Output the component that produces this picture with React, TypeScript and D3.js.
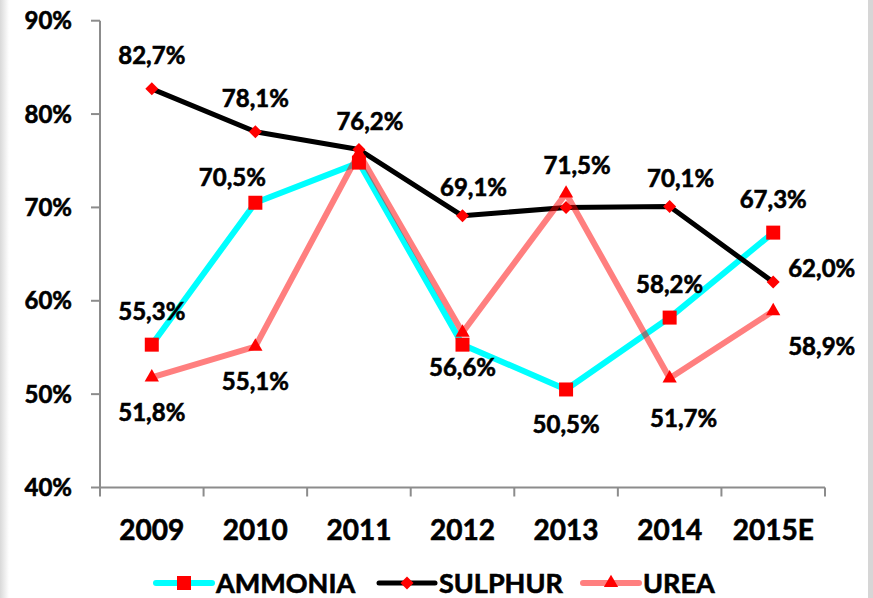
import { scaleBand, scaleLinear, line as d3line, symbol, symbolSquare, symbolTriangle, range } from "d3";

const years = ["2009", "2010", "2011", "2012", "2013", "2014", "2015E"];
const ammonia = [55.3, 70.5, 74.8, 55.3, 50.5, 58.2, 67.3];
const sulphur = [82.7, 78.1, 76.2, 69.1, 70.0, 70.1, 62.0];
const urea = [51.8, 55.1, 75.8, 56.6, 71.5, 51.7, 58.9];

// label placement per point: t=above, b=below, r=right, tl/tr/br shifted, "" hidden
const ammoniaLabels = ["t", "tl", "", "", "b", "t", "t"];
const sulphurLabels = ["t", "t", "tr", "tr", "", "tr", "r"];
const ureaLabels = ["b", "b", "", "b", "tr", "br2", "br"];

const yTicks = [40, 50, 60, 70, 80, 90];
const seriesNames = ["AMMONIA", "SULPHUR", "UREA"];

const W = 873;
const H = 598;
const PLOT = { left: 100, right: 825, top: 20.7, bottom: 487.5 };
const FONT = "Lato, 'Open Sans', sans-serif";
const LEGEND_X = [156, 379, 583];

const fmt = (v: number) => v.toFixed(1).replace(".", ",") + "%";

type Marker = "square" | "diamond" | "triangle";

function markerPath(m: Marker) {
  if (m === "square") return symbol(symbolSquare, 196)() ?? "";
  if (m === "diamond") return "M0,-6.5L6.5,0L0,6.5L-6.5,0Z";
  return symbol(symbolTriangle, 88)() ?? "";
}

// slightly heavier glyphs, closer to the original bold face
const textStroke = { stroke: "#000", strokeWidth: 0.6 };

export default function App() {
  const x = scaleBand<string>().domain(years).range([PLOT.left, PLOT.right]);
  const y = scaleLinear().domain([40, 90]).range([PLOT.bottom, PLOT.top]);
  const cx = (i: number) => (x(years[i]) ?? 0) + x.bandwidth() / 2;

  const series = [
    { name: seriesNames[0], values: ammonia, labels: ammoniaLabels, stroke: "#00ffff", width: 6, opacity: 1, marker: "square" as Marker },
    { name: seriesNames[1], values: sulphur, labels: sulphurLabels, stroke: "#000000", width: 5, opacity: 1, marker: "diamond" as Marker },
    { name: seriesNames[2], values: urea, labels: ureaLabels, stroke: "#ff0000", width: 6, opacity: 0.5, marker: "triangle" as Marker },
  ];

  const gen = d3line<number>()
    .x((_, i) => cx(i))
    .y((v) => y(v));

  const labelPos = (code: string, i: number, v: number) => {
    const px = cx(i);
    const py = y(v);
    switch (code) {
      case "t":
        return { x: px, y: py - 33, anchor: "middle" };
      case "tl":
        return { x: px - 23, y: py - 25, anchor: "middle" };
      case "tr":
        return { x: px + 11, y: py - 28, anchor: "middle" };
      case "b":
        return { x: px, y: py + 35, anchor: "middle" };
      case "br2":
        return { x: px + 14, y: py + 40, anchor: "middle" };
      case "br":
        return { x: px + 15, y: py + 35, anchor: "start" };
      case "r":
        return { x: px + 15, y: py - 14, anchor: "start" };
      default:
        return null;
    }
  };

  const boundaries = range(years.length + 1).map((i) => PLOT.left + i * x.step());

  return (
    <svg
      width={W}
      height={H}
      viewBox={`0 0 ${W} ${H}`}
      style={{ position: "absolute", left: 0, top: 0, background: "#fff" }}
      fontFamily={FONT}
      fontWeight={700}
    >
      <defs>
        <linearGradient id="edgeL" x1="0" x2="1" y1="0" y2="0">
          <stop offset="0" stopColor="#d9d9d9" />
          <stop offset="1" stopColor="#ffffff" />
        </linearGradient>
      </defs>
      <rect x={0} y={0} width={9} height={H} fill="url(#edgeL)" />
      <rect x={868} y={0} width={5} height={H} fill="#d6d6d6" />

      {/* y axis */}
      <line x1={PLOT.left} x2={PLOT.left} y1={PLOT.top} y2={PLOT.bottom} stroke="#8c8c8c" strokeWidth={2} />
      {yTicks.map((t) => (
        <g key={t}>
          <line x1={PLOT.left - 9} x2={PLOT.left} y1={y(t)} y2={y(t)} stroke="#8c8c8c" strokeWidth={2} />
          <text x={72} y={y(t) + 8.5} textAnchor="end" fontSize={24} fill="#000" {...textStroke}>
            {t}%
          </text>
        </g>
      ))}

      {/* x axis */}
      <line x1={PLOT.left} x2={PLOT.right} y1={PLOT.bottom} y2={PLOT.bottom} stroke="#8c8c8c" strokeWidth={2} />
      {boundaries.map((b, i) => (
        <line key={i} x1={b} x2={b} y1={PLOT.bottom} y2={PLOT.bottom + 9} stroke="#8c8c8c" strokeWidth={2} />
      ))}
      {years.map((yr, i) => (
        <text key={yr} x={cx(i)} y={539.5} textAnchor="middle" fontSize={28} fill="#000" {...textStroke}>
          {yr}
        </text>
      ))}

      {/* lines */}
      {series.map((s) => (
        <path
          key={s.name}
          d={gen(s.values) ?? ""}
          fill="none"
          stroke={s.stroke}
          strokeOpacity={s.opacity}
          strokeWidth={s.width}
          strokeLinejoin="round"
        />
      ))}

      {/* markers */}
      {series.map((s) =>
        s.values.map((v, i) => (
          <path key={s.name + i} d={markerPath(s.marker)} transform={`translate(${cx(i)},${y(v)})`} fill="#ff0000" />
        ))
      )}

      {/* data labels */}
      {series.map((s) =>
        s.values.map((v, i) => {
          const p = labelPos(s.labels[i], i, v);
          if (!p) return null;
          return (
            <text key={s.name + "l" + i} x={p.x} y={p.y + 8.5} textAnchor={p.anchor} fontSize={24} fill="#000" {...textStroke}>
              {fmt(v)}
            </text>
          );
        })
      )}

      {/* legend */}
      {series.map((s, k) => (
        <g key={s.name} transform={`translate(${LEGEND_X[k]},583)`}>
          <line x1={0} x2={56} y1={0} y2={0} stroke={s.stroke} strokeOpacity={s.opacity} strokeWidth={s.width} strokeLinecap="round" />
          <path d={markerPath(s.marker)} transform="translate(28,0)" fill="#ff0000" />
          <text x={60} y={9.5} fontSize={27} fill="#000" {...textStroke}>
            {s.name}
          </text>
        </g>
      ))}
    </svg>
  );
}
